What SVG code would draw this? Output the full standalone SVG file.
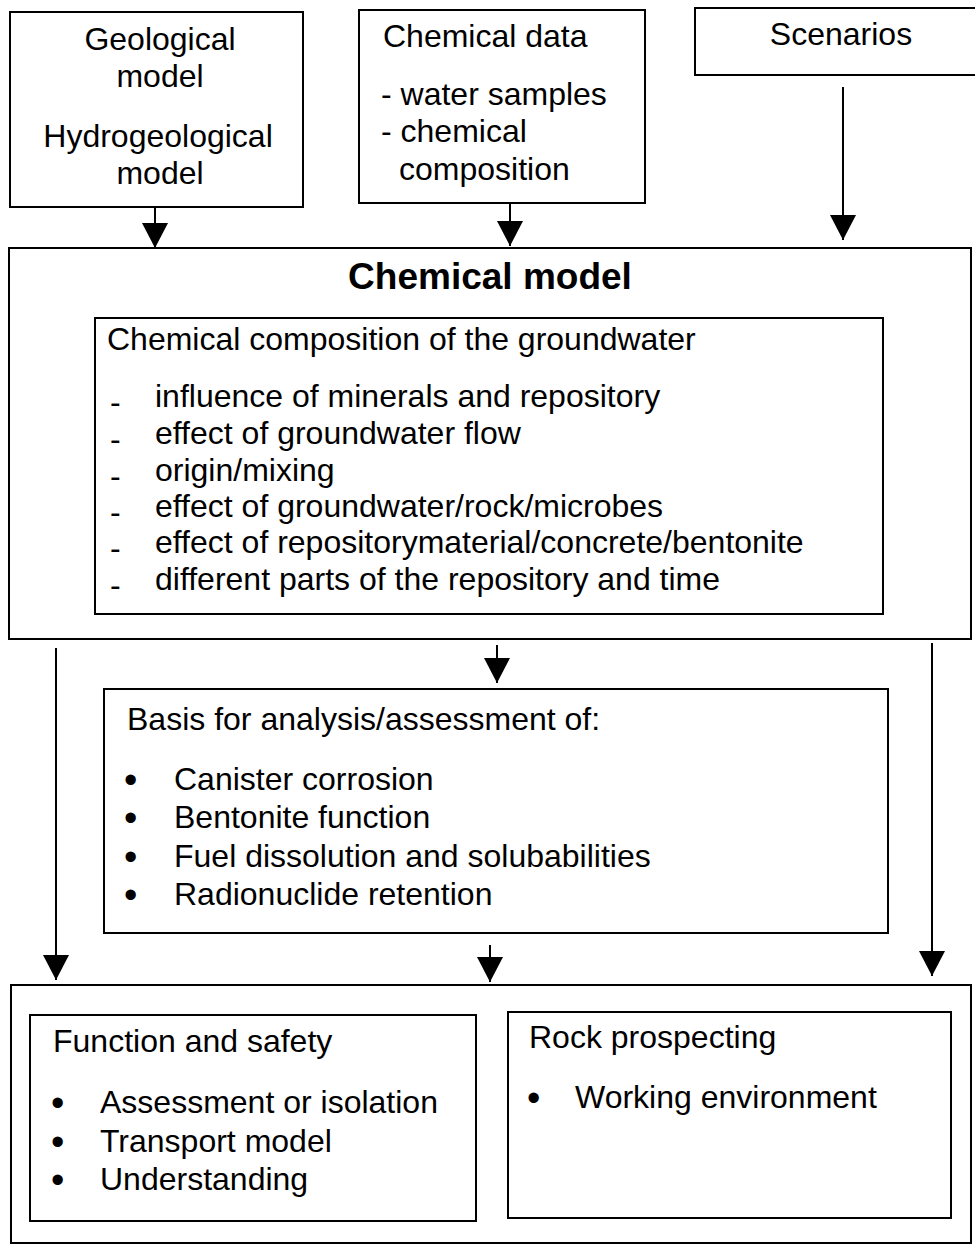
<svg xmlns="http://www.w3.org/2000/svg" width="975" height="1245" viewBox="0 0 975 1245">
  <style>
    .box { fill: #fff; stroke: #000; stroke-width: 2; }
    .t { font-family: "Liberation Sans", Arial, sans-serif; font-size: 32px; fill: #000; }
    .b { font-family: "Liberation Sans", Arial, sans-serif; font-size: 38px; fill: #000; }
    .c { text-anchor: middle; }
    .title { font-family: "Liberation Sans", Arial, sans-serif; font-size: 37px; font-weight: bold; text-anchor: middle; fill: #000; }
    .conn { stroke: #000; stroke-width: 2; fill: none; marker-end: url(#ah); }
  </style>
  <defs>
    <marker id="ah" markerUnits="userSpaceOnUse" markerWidth="26" markerHeight="26" refX="25" refY="13" orient="auto">
      <path d="M0,0 L25,13 L0,26 z" fill="#000"/>
    </marker>
  </defs>
  <rect width="975" height="1245" fill="#fff"/>

  <g id="geological">
    <rect class="box" x="10" y="12" width="293" height="195"/>
    <text class="t c" x="160" y="50">Geological</text>
    <text class="t c" x="160" y="87">model</text>
    <text class="t c" x="158" y="147">Hydrogeological</text>
    <text class="t c" x="160" y="184">model</text>
  </g>

  <g id="chemical-data">
    <rect class="box" x="359" y="10" width="286" height="193"/>
    <text class="t" x="383" y="47">Chemical data</text>
    <text class="t" x="381" y="105">- water samples</text>
    <text class="t" x="381" y="142">- chemical</text>
    <text class="t" x="399" y="180">composition</text>
  </g>

  <g id="scenarios">
    <rect class="box" x="695" y="8" width="295" height="67"/>
    <text class="t c" x="841" y="45">Scenarios</text>
  </g>

  <g id="chemical-model">
    <rect class="box" x="9" y="248" width="962" height="391"/>
    <text class="title" x="490" y="289">Chemical model</text>
  </g>

  <g id="groundwater">
    <rect class="box" x="95" y="318" width="788" height="296"/>
    <text class="t" x="107" y="350">Chemical composition of the groundwater</text>
    <text class="t" x="110" y="413">-</text><text class="t" x="155" y="407">influence of minerals and repository</text>
    <text class="t" x="110" y="450">-</text><text class="t" x="155" y="444">effect of groundwater flow</text>
    <text class="t" x="110" y="487">-</text><text class="t" x="155" y="481">origin/mixing</text>
    <text class="t" x="110" y="523">-</text><text class="t" x="155" y="517">effect of groundwater/rock/microbes</text>
    <text class="t" x="110" y="559">-</text><text class="t" x="155" y="553">effect of repositorymaterial/concrete/bentonite</text>
    <text class="t" x="110" y="596">-</text><text class="t" x="155" y="590">different parts of the repository and time</text>
  </g>

  <g id="basis">
    <rect class="box" x="104" y="689" width="784" height="244"/>
    <text class="t" x="127" y="730">Basis for analysis/assessment of:</text>
    <text class="b" x="124" y="793">•</text><text class="t" x="174" y="790">Canister corrosion</text>
    <text class="b" x="124" y="831">•</text><text class="t" x="174" y="828">Bentonite function</text>
    <text class="b" x="124" y="870">•</text><text class="t" x="174" y="867">Fuel dissolution and solubabilities</text>
    <text class="b" x="124" y="908">•</text><text class="t" x="174" y="905">Radionuclide retention</text>
  </g>

  <g id="outputs">
    <rect class="box" x="11" y="985" width="960" height="258"/>
  </g>

  <g id="function-safety">
    <rect class="box" x="30" y="1015" width="446" height="206"/>
    <text class="t" x="53" y="1052">Function and safety</text>
    <text class="b" x="51" y="1116">•</text><text class="t" x="100" y="1113">Assessment or isolation</text>
    <text class="b" x="51" y="1155">•</text><text class="t" x="100" y="1152">Transport model</text>
    <text class="b" x="51" y="1193">•</text><text class="t" x="100" y="1190">Understanding</text>
  </g>

  <g id="rock-prospecting">
    <rect class="box" x="508" y="1012" width="443" height="206"/>
    <text class="t" x="529" y="1048">Rock prospecting</text>
    <text class="b" x="527" y="1111">•</text><text class="t" x="575" y="1108">Working environment</text>
  </g>

  <g id="connectors">
    <line class="conn" x1="155" y1="207" x2="155" y2="248"/>
    <line class="conn" x1="510" y1="203" x2="510" y2="246"/>
    <line class="conn" x1="843" y1="87" x2="843" y2="240"/>
    <line class="conn" x1="56" y1="648" x2="56" y2="980"/>
    <line class="conn" x1="497" y1="645" x2="497" y2="683"/>
    <line class="conn" x1="932" y1="643" x2="932" y2="976"/>
    <line class="conn" x1="490" y1="945" x2="490" y2="982"/>
  </g>
</svg>
